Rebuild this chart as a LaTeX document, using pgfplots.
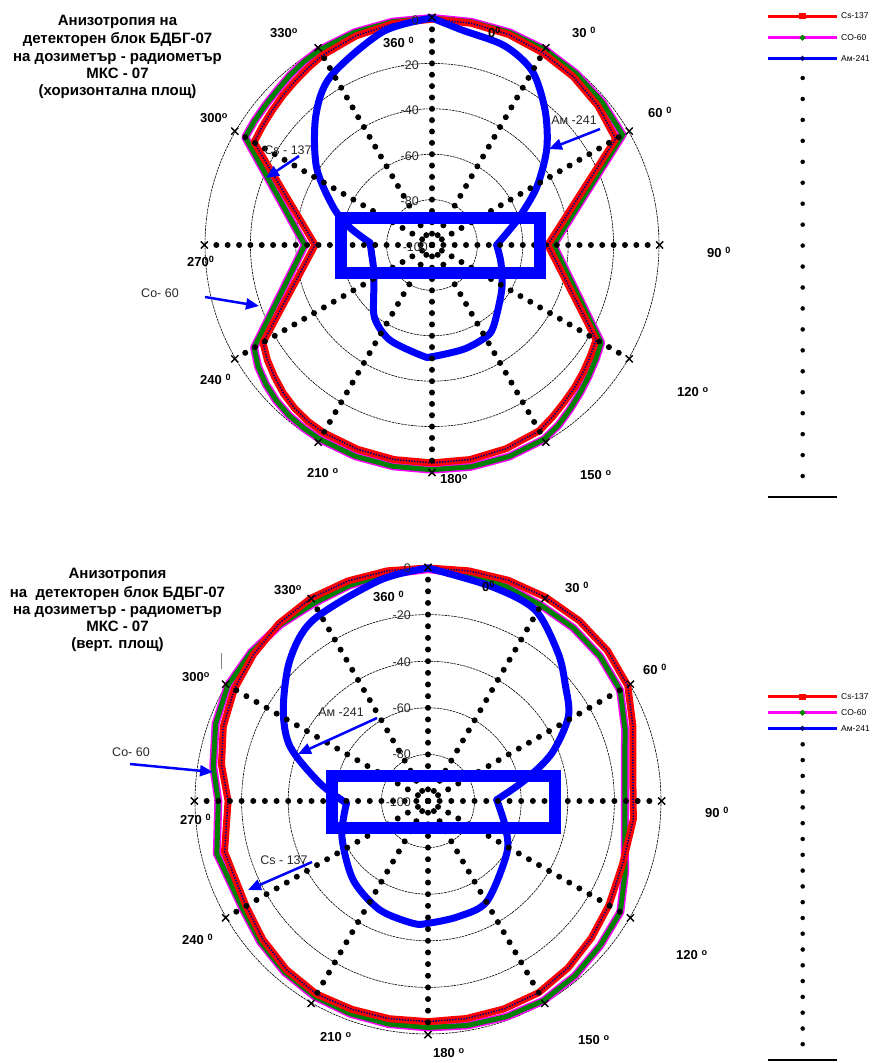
\documentclass[border=0pt]{standalone}
\usepackage{fontspec}
\setmainfont{Liberation Sans}
\usepackage{pgfplots}
\pgfplotsset{compat=1.18}
\usepackage{pgfplotstable}
\usepgfplotslibrary{polar}
\usetikzlibrary{arrows.meta}

\definecolor{cmag}{RGB}{255,0,255}
\definecolor{cgreen}{RGB}{0,128,0}
\definecolor{cnavy}{RGB}{0,0,128}
\definecolor{cblue}{RGB}{0,0,255}
\definecolor{cred}{RGB}{255,0,0}
\definecolor{ctext}{RGB}{40,40,40}

% ---------- top chart (horizontal plane): compass angle a [deg], level db ----------
\pgfplotstableread{
a db
0 0
10 -0.2
20 -0.3
30 -0.6
40 -1.3
50 -2.1
60 -3
90 -46.5
120 -14
125 -12
130 -10
135 -7.8
140 -5.5
145 -3
150 -1.2
160 -0.8
170 -0.8
180 -1
190 -1
200 -1
210 -1.2
215 -1.5
220 -2
225 -3
230 -4.5
235 -6.5
240 -9.5
270 -44
300 -5
305 -4.6
310 -4.2
315 -3.6
320 -2.5
325 -1.5
330 -0.8
340 -0.3
350 -0.1
360 0
}\coTop
\pgfplotstableread{
a db
0 -0.5
10 -0.8
20 -1.3
30 -2.3
40 -3.2
50 -4.6
60 -6.5
90 -49
120 -16.5
125 -14.8
130 -13
135 -11.2
140 -9.5
145 -7.5
150 -5.5
160 -4.5
170 -4
180 -4
190 -4
200 -4.2
210 -4.5
215 -5
220 -6
225 -7.5
230 -9.5
235 -11.5
240 -14
270 -48.5
300 -9.5
305 -8.8
310 -8
315 -7
320 -6
325 -4.8
330 -3.5
340 -2
350 -1
360 -0.5
}\csTop
\pgfplotstableread{
a db
0 0
8 -4.4
20 -6.6
30 -11.6
40 -22.5
50 -34
61 -47.2
72 -59.3
80 -66
90 -71.5
105 -68.5
123 -63.4
143 -55
150 -53
163 -52
180 -50.8
185 -51
204 -54.2
218 -59
230 -66.5
240 -70.5
250 -72.5
260 -73.1
272 -72.7
282 -63
291 -53.4
304 -38.6
318 -23.5
329 -13.3
347 -3.6
360 0
}\amTop

% ---------- bottom chart (vertical plane) ----------
\pgfplotstableread{
a db
0 -0.5
10 -1
20 -2
30 -3
40 -3
50 -3.5
60 -4.8
70 -10
80 -14.2
90 -15.5
100 -14.2
110 -10
120 -4.7
130 -3.5
140 -2
150 -1
160 -1.5
170 -2.2
180 -2.8
190 -2.8
200 -2.8
210 -3
220 -4.2
230 -6
240 -8
256 -6.6
270 -10
279 -6.7
290 -3
300 -0.8
310 -0.8
320 -1.3
330 -2
340 -1.5
350 -1
360 -0.5
}\coBot
\pgfplotstableread{
a db
0 0
10 0.3
20 0.8
30 1
40 1
50 0.5
60 -1
70 -6.4
80 -10.7
90 -12
95 -11.5
108 -12.2
120 -10.4
130 -8.5
140 -6.5
150 -5
160 -5
170 -5.2
180 -5.3
190 -5.1
200 -4.8
210 -4.3
220 -5.5
230 -7.5
240 -9.8
256 -10
270 -14.2
280 -10
290 -6.5
300 -4
310 -2.2
320 -0.5
330 0.5
340 0.5
350 0.3
360 0
}\csBot
\pgfplotstableread{
a db
0 0
16.5 -4
29.3 -6
41.4 -15.5
50 -23
59 -29.7
68.9 -43
77.8 -57.4
89 -70.5
108.5 -65
123.6 -59.4
149.7 -50
165.3 -48.7
180 -47.5
187 -47.1
204 -48.9
223.4 -53.3
247.5 -60
268.4 -65
279.3 -53
291.5 -36.4
302.2 -26.6
315.6 -15.3
327.6 -8
347.7 -3
360 0
}\amBot

\pgfplotsset{
  table/pol/.style={x expr={90-\thisrow{a}}, y expr={\thisrow{db}+100}},
  polarbase/.style={scale only axis, anchor=center,
    xmin=0, xmax=360, ymin=0, ymax=100,
    xtick=\empty, ytick={20,40,60,80,100}, yticklabel style={opacity=0},
    major tick length=0pt,
    ymajorgrids, y grid style={black, line width=0.6pt, dash pattern=on 2.5pt off 0.8pt},
    axis line style={draw=none}, clip=false},
  coouter/.style={cmag, line width=8pt, line join=round},
  coinner/.style={cgreen, line width=5pt, line join=round},
  csline/.style={cred, line width=7pt, line join=round},
  csdots/.style={cnavy, line width=1.6pt, dash pattern=on 1.4pt off 1.4pt},
  amline/.style={cblue, line width=7pt, line join=round, line cap=round, smooth, tension=0.5},
  xmk/.style={only marks, mark=x, mark size=5pt, black, mark options={line width=1.4pt}},
}

\newcommand{\spokes}[1]{%
  \addplot[black, line width=6pt, line cap=round, dash pattern=on 0pt off #1] coordinates {(90,0) (90,100)};
  \addplot[black, line width=6pt, line cap=round, dash pattern=on 0pt off #1] coordinates {(60,0) (60,100)};
  \addplot[black, line width=6pt, line cap=round, dash pattern=on 0pt off #1] coordinates {(30,0) (30,100)};
  \addplot[black, line width=6pt, line cap=round, dash pattern=on 0pt off #1] coordinates {(0,0) (0,100)};
  \addplot[black, line width=6pt, line cap=round, dash pattern=on 0pt off #1] coordinates {(-30,0) (-30,100)};
  \addplot[black, line width=6pt, line cap=round, dash pattern=on 0pt off #1] coordinates {(-60,0) (-60,100)};
  \addplot[black, line width=6pt, line cap=round, dash pattern=on 0pt off #1] coordinates {(-90,0) (-90,100)};
  \addplot[black, line width=6pt, line cap=round, dash pattern=on 0pt off #1] coordinates {(-120,0) (-120,100)};
  \addplot[black, line width=6pt, line cap=round, dash pattern=on 0pt off #1] coordinates {(-150,0) (-150,100)};
  \addplot[black, line width=6pt, line cap=round, dash pattern=on 0pt off #1] coordinates {(180,0) (180,100)};
  \addplot[black, line width=6pt, line cap=round, dash pattern=on 0pt off #1] coordinates {(150,0) (150,100)};
  \addplot[black, line width=6pt, line cap=round, dash pattern=on 0pt off #1] coordinates {(120,0) (120,100)};
  \addplot[xmk] coordinates {(90,100.3) (60,100.3) (30,100.3) (0,100.3) (-30,100.3) (-60,100.3)
     (-90,100.3) (-120,100.3) (-150,100.3) (180,100.3) (150,100.3) (120,100.3)};
}

\newcommand{\albl}[4]{\node[anchor=base west, font=\fontsize{13}{14}\selectfont\bfseries, inner sep=0pt] at (axis cs:#1,#2) {#3\textsuperscript{#4}};}
\newcommand{\tlbl}[3]{\node[anchor=base east, font=\fontsize{12.5}{14}\selectfont, text=ctext, inner sep=0pt] at (axis cs:#1,#2) {#3};}
\newcommand{\ttl}[3]{\node[anchor=base, font=\fontsize{15}{17}\selectfont\bfseries, inner sep=0pt] at (axis cs:#1,#2) {#3};}
\newcommand{\annot}[3]{\node[anchor=center, font=\fontsize{12.5}{14}\selectfont, text=ctext, inner sep=0pt] at (axis cs:#1,#2) {#3};}

\begin{document}
\begin{tikzpicture}
\path[use as bounding box] (0pt,0pt) rectangle (875pt,1063pt);

% ===== top polar chart =====
\begin{polaraxis}[polarbase, at={(432pt,818pt)}, width=454pt, height=454pt]
  \addplot[coouter] table[pol] {\coTop};
  \addplot[coinner] table[pol] {\coTop};
  \addplot[csline] table[pol] {\csTop};
  \addplot[csdots] table[pol] {\csTop};
  \addplot[amline, restrict x to domain=-0.01:90.01] table[pol] {\amTop};
  \addplot[amline, restrict x to domain=-182.01:0.01] table[pol] {\amTop};
  \addplot[amline, restrict x to domain=-270.01:-181.99] table[pol] {\amTop};
  \spokes{11.35pt}
\end{polaraxis}

% ===== bottom polar chart =====
\begin{polaraxis}[polarbase, at={(428pt,262pt)}, width=466pt, height=466pt]
  \addplot[coouter] table[pol] {\coBot};
  \addplot[coinner] table[pol] {\coBot};
  \addplot[csline] table[pol] {\csBot};
  \addplot[csdots] table[pol] {\csBot};
  \addplot[amline, restrict x to domain=0.99:90.01] table[pol] {\amBot};
  \addplot[amline, restrict x to domain=-178.41:1.01] table[pol] {\amBot};
  \addplot[amline, restrict x to domain=-270.01:-178.39] table[pol] {\amBot};
  \spokes{11.65pt}
\end{polaraxis}

% ===== page overlay (pixel coordinates) =====
\begin{axis}[at={(0pt,0pt)}, anchor=south west, width=875pt, height=1063pt, scale only axis,
  xmin=0, xmax=875, ymin=0, ymax=1063, y dir=reverse, hide axis, clip=false]

  % detector outlines
  \addplot[cblue, line width=12pt, line join=miter] coordinates {(340.5,217.5) (540,217.5) (540,273.3) (340.5,273.3)} -- cycle;
  \addplot[cblue, line width=12pt, line join=miter] coordinates {(331.5,775.5) (555,775.5) (555,828) (331.5,828)} -- cycle;

  % titles
  \ttl{117.5}{25}{Анизотропия на}
  \ttl{117.5}{43.5}{детекторен блок БДБГ-07}
  \ttl{117.5}{61}{на дозиметър - радиометър}
  \ttl{117.5}{78.3}{МКС - 07}
  \ttl{117.5}{95}{(хоризонтална площ)}

  \ttl{117.5}{578.5}{Анизотропия}
  \ttl{117.5}{597}{на\ \ детекторен блок БДБГ-07}
  \ttl{117.5}{614.5}{на дозиметър - радиометър}
  \ttl{117.5}{631.5}{МКС - 07}
  \ttl{117.5}{648.5}{(верт. площ)}

  % angle labels, top
  \albl{270}{37.7}{330}{o}
  \albl{383}{47.7}{360 }{0}
  \albl{488}{37.7}{0}{0}
  \albl{572}{37.7}{30 }{0}
  \albl{648}{117.7}{60 }{0}
  \albl{707}{257.7}{90 }{0}
  \albl{677}{396.7}{120 }{o}
  \albl{580}{479.7}{150 }{o}
  \albl{440}{483.7}{180}{o}
  \albl{307}{477.7}{210 }{o}
  \albl{200}{384.7}{240 }{0}
  \albl{187}{266.7}{270}{0}
  \albl{200}{122.7}{300}{o}
  % angle labels, bottom
  \albl{274}{594.7}{330}{o}
  \albl{373}{601.7}{360 }{0}
  \albl{482}{591.7}{0}{0}
  \albl{565}{592.7}{30 }{0}
  \albl{643}{674.7}{60 }{0}
  \albl{705}{817.7}{90 }{0}
  \albl{676}{959.7}{120 }{o}
  \albl{578}{1044.7}{150 }{o}
  \albl{433}{1057.7}{180 }{o}
  \albl{320}{1041.7}{210 }{o}
  \albl{182}{944.7}{240 }{0}
  \albl{180}{824.7}{270 }{0}
  \albl{182}{681.7}{300}{o}

  % radial tick labels
  \tlbl{419}{24.5}{0}
  \tlbl{419}{69.5}{-20}
  \tlbl{419}{114.5}{-40}
  \tlbl{419}{160.5}{-60}
  \tlbl{419}{205.5}{-80}
  \tlbl{428}{251.5}{-100}
  \tlbl{411}{572.5}{0}
  \tlbl{411}{619.5}{-20}
  \tlbl{411}{666.5}{-40}
  \tlbl{411}{712.5}{-60}
  \tlbl{411}{758.5}{-80}
  \tlbl{411}{806.5}{-100}

  % annotations
  \annot{574}{120}{Ам -241}
  \addplot[cblue, line width=2.5pt, -{Triangle[length=13pt, width=11pt]}] coordinates {(600,129) (549,149)};
  \annot{288}{150}{Cs - 137}
  \addplot[cblue, line width=2.5pt, -{Triangle[length=13pt, width=11pt]}] coordinates {(299,156) (266,178)};
  \annot{160}{293}{Co- 60}
  \addplot[cblue, line width=2.5pt, -{Triangle[length=13pt, width=11pt]}] coordinates {(205,297) (259,306)};

  \annot{341}{712}{Ам -241}
  \addplot[cblue, line width=2.5pt, -{Triangle[length=13pt, width=11pt]}] coordinates {(377,718) (298,754)};
  \annot{284}{860}{Cs - 137}
  \addplot[cblue, line width=2.5pt, -{Triangle[length=13pt, width=11pt]}] coordinates {(312,862) (248,890)};
  \annot{131}{752}{Co- 60}
  \addplot[cblue, line width=2.5pt, -{Triangle[length=13pt, width=11pt]}] coordinates {(130,764) (213,772)};
  \addplot[gray, line width=0.6pt] coordinates {(221,653) (221,669)};

  % legends
  \addplot[cred, line width=3pt, mark=square*, mark size=1.6pt, mark indices={2}] coordinates {(768,16) (802.5,16) (837,16)};
  \addplot[cmag, line width=3pt, mark=*, mark size=1pt, mark options={cgreen}, mark indices={2}] coordinates {(768,37.7) (802.5,37.7) (837,37.7)};
  \addplot[cblue, line width=3pt, mark=*, mark size=0.6pt, mark options={cnavy}, mark indices={2}] coordinates {(768,58.3) (802.5,58.3) (837,58.3)};
  \node[anchor=west, font=\fontsize{8.5}{10}\selectfont, inner sep=0pt] at (axis cs:841,16) {Cs-137};
  \node[anchor=west, font=\fontsize{8.5}{10}\selectfont, inner sep=0pt] at (axis cs:841,37.7) {CO-60};
  \node[anchor=west, font=\fontsize{8.5}{10}\selectfont, inner sep=0pt] at (axis cs:841,58.3) {Ам-241};

  \addplot[cred, line width=3pt, mark=square*, mark size=1.6pt, mark indices={2}] coordinates {(768,696.7) (802.5,696.7) (837,696.7)};
  \addplot[cmag, line width=3pt, mark=*, mark size=1pt, mark options={cgreen}, mark indices={2}] coordinates {(768,712.7) (802.5,712.7) (837,712.7)};
  \addplot[cblue, line width=3pt, mark=*, mark size=0.6pt, mark options={cnavy}, mark indices={2}] coordinates {(768,728.3) (802.5,728.3) (837,728.3)};
  \node[anchor=west, font=\fontsize{8.5}{10}\selectfont, inner sep=0pt] at (axis cs:841,696.7) {Cs-137};
  \node[anchor=west, font=\fontsize{8.5}{10}\selectfont, inner sep=0pt] at (axis cs:841,712.7) {CO-60};
  \node[anchor=west, font=\fontsize{8.5}{10}\selectfont, inner sep=0pt] at (axis cs:841,728.3) {Ам-241};

  % dotted columns with base lines
  \addplot[only marks, mark=*, mark size=2pt, black] coordinates {
    (802.7,78) (802.7,98.95) (802.7,119.9) (802.7,140.85) (802.7,161.8) (802.7,182.75)
    (802.7,203.7) (802.7,224.65) (802.7,245.6) (802.7,266.55) (802.7,287.5) (802.7,308.45)
    (802.7,329.4) (802.7,350.35) (802.7,371.3) (802.7,392.25) (802.7,413.2) (802.7,434.15)
    (802.7,455.1) (802.7,476.05)};
  \addplot[black, line width=2pt] coordinates {(768,497) (837,497)};
  \addplot[only marks, mark=*, mark size=2pt, black] coordinates {
    (802.7,744.3) (802.7,760.1) (802.7,775.9) (802.7,791.7) (802.7,807.4) (802.7,823.2)
    (802.7,839) (802.7,854.8) (802.7,870.6) (802.7,886.4) (802.7,902.2) (802.7,918)
    (802.7,933.7) (802.7,949.5) (802.7,965.3) (802.7,981.1) (802.7,996.9) (802.7,1012.7)
    (802.7,1028.5) (802.7,1044.2)};
  \addplot[black, line width=2pt] coordinates {(768,1060) (837,1060)};
\end{axis}
\end{tikzpicture}
\end{document}
